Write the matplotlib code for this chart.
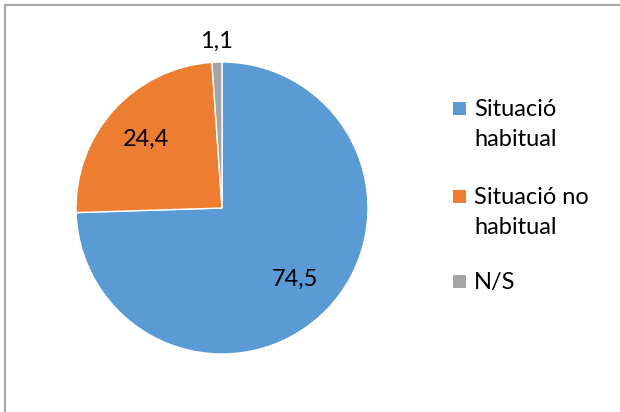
import matplotlib.pyplot as plt
import matplotlib.patches as mpatches
import numpy as np

plt.rcParams['font.family'] = ['Lato', 'DejaVu Sans']

categories = ['Situació\nhabitual', 'Situació no\nhabitual', 'N/S']
values = [74.5, 24.4, 1.1]
value_labels = ['74,5', '24,4', '1,1']
colors = ['#5B9BD5', '#ED7D31', '#A5A5A5']
label_dist = [0.70, 0.70, 1.14]

W, H = 620, 412
fig = plt.figure(figsize=(W / 100, H / 100), dpi=100)

# frame (only left/top visible in the crop)
fig.patches.append(mpatches.Rectangle((5 / W, -0.1), 1.2, (H - 5) / H + 0.1,
                                      transform=fig.transFigure, fill=False,
                                      edgecolor='#A6A6A6', lw=1.5))

cx, cy, r = 222, 208, 146
ax = fig.add_axes([(cx - r) / W, (H - cy - r) / H, 2 * r / W, 2 * r / H])
wedges, _ = ax.pie(values, colors=colors, startangle=90, counterclock=False,
                   radius=1, wedgeprops=dict(edgecolor='white', linewidth=1))
ax.set_xlim(-1, 1)
ax.set_ylim(-1, 1)
ax.set_aspect('equal')
ax.axis('off')

for w, txt, d in zip(wedges, value_labels, label_dist):
    ang = np.deg2rad((w.theta1 + w.theta2) / 2)
    ax.text(d * np.cos(ang), d * np.sin(ang), txt, ha='center', va='center',
            fontsize=17, color='black', clip_on=False)

# legend, drawn by hand
sq_tops = [102, 190, 275]
for cat, col, top in zip(categories, colors, sq_tops):
    fig.patches.append(mpatches.Rectangle((453 / W, (H - top - 13) / H), 13 / W, 13 / H,
                                          transform=fig.transFigure, facecolor=col,
                                          edgecolor='none'))
    fig.text(474 / W, (H - top + 3) / H, cat, ha='left', va='top', fontsize=17,
             linespacing=1.55, color='black')

fig.savefig('out.png', dpi=100)
